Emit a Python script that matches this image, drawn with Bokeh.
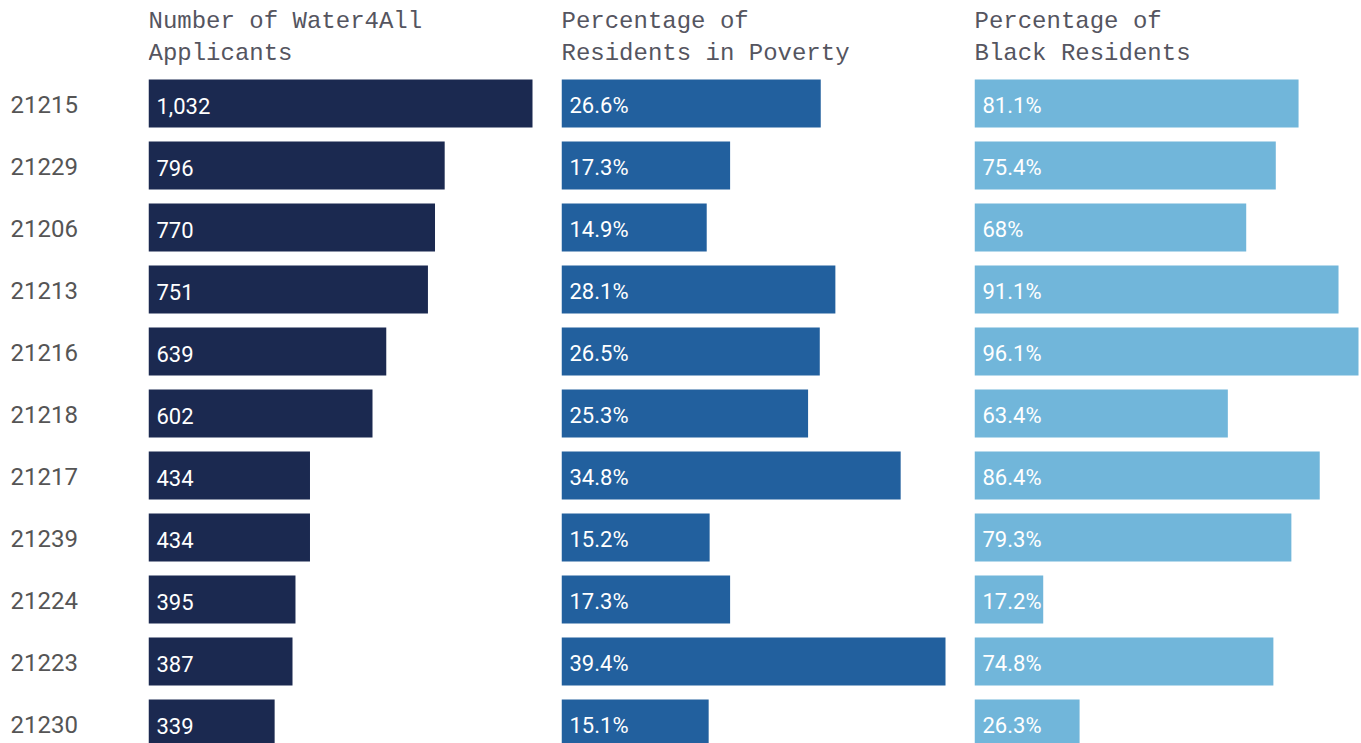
from bokeh.plotting import figure
from bokeh.layouts import row
from bokeh.models import Range1d, ColumnDataSource
from bokeh.core.properties import value
from bokeh.embed import file_html
from bokeh.resources import INLINE

# ---------------- data ----------------
zip_codes = ["21215", "21229", "21206", "21213", "21216", "21218",
             "21217", "21239", "21224", "21223", "21230"]
applicants = [1032, 796, 770, 751, 639, 602, 434, 434, 395, 387, 339]
poverty_pct = [26.6, 17.3, 14.9, 28.1, 26.5, 25.3, 34.8, 15.2, 17.3, 39.4, 15.1]
black_pct = [81.1, 75.4, 68, 91.1, 96.1, 63.4, 86.4, 79.3, 17.2, 74.8, 26.3]

header_lines = [
    ["Number of Water4All", "Applicants"],
    ["Percentage of", "Residents in Poverty"],
    ["Percentage of", "Black Residents"],
]
bar_colors = ["#1b2950", "#22609e", "#71b6da"]

# ---------------- layout constants (pixels) ----------------
H = 743          # figure height
ROW = 62         # row pitch
TOP = 103        # figure top -> centre of first row
BAR = 48         # bar thickness
FULL = 384       # length of the longest bar in each panel
LABEL_W = 148
PANEL_W = [413, 413, 387]
HEAD_BASE = [21, 53]   # header text anchors from figure top
TEXT_DROP = 2          # value-label anchor below row centre
ZIP_DROP = 0.5

HEAD_FONT = "Liberation Mono"
HEAD_COLOR = "#55555f"
LABEL_FONT = "Roboto"

idx = list(range(len(zip_codes)))


def y_range():
    return Range1d(start=(H - TOP) / ROW, end=-TOP / ROW)


def base_fig(w, xr):
    p = figure(width=w, height=H, x_range=xr, y_range=y_range(),
               output_backend="svg", toolbar_location=None,
               x_axis_type=None, y_axis_type=None,
               min_border=0, min_border_left=0, min_border_right=0,
               min_border_top=0, min_border_bottom=0)
    p.grid.visible = False
    p.outline_line_color = None
    p.background_fill_color = "white"
    p.border_fill_color = "white"
    return p


# ---------------- zip-code labels ----------------
lab = base_fig(LABEL_W, Range1d(0, LABEL_W))
lab.text(x=[0] * len(zip_codes), y=[i + ZIP_DROP / ROW for i in idx],
         text=zip_codes, x_offset=10,
         text_font=value(LABEL_FONT), text_font_size="24px",
         text_color="#555555", text_align="left",
         text_baseline="alphabetic")

# ---------------- bar panels ----------------
series = [applicants, poverty_pct, black_pct]
formats = [
    [f"{v:,}" for v in applicants],
    [f"{v:g}%" for v in poverty_pct],
    [f"{v:g}%" for v in black_pct],
]

panels = [lab]
for k in range(3):
    vals = series[k]
    vmax = max(vals)
    w = PANEL_W[k]
    p = base_fig(w, Range1d(0, vmax * w / FULL))
    src = ColumnDataSource(dict(y=idx, v=vals, t=formats[k],
                                ty=[i + TEXT_DROP / ROW for i in idx]))
    p.hbar(y="y", left=0, right="v", height=BAR / ROW, source=src,
           fill_color=bar_colors[k], line_color=None)
    p.text(x=0, y="ty", text="t", source=src, x_offset=8,
           text_font=value(LABEL_FONT), text_font_size="22px",
           text_color="white", text_align="left",
           text_baseline="alphabetic")
    p.text(x=[0, 0],
           y=[(HEAD_BASE[0] - TOP) / ROW, (HEAD_BASE[1] - TOP) / ROW],
           text=header_lines[k],
           text_font=value(HEAD_FONT), text_font_size="24px",
           text_color=HEAD_COLOR, text_align="left",
           text_baseline="alphabetic")
    panels.append(p)

layout = row(*panels, spacing=0)

open("out.html", "w").write(file_html(layout, INLINE))
